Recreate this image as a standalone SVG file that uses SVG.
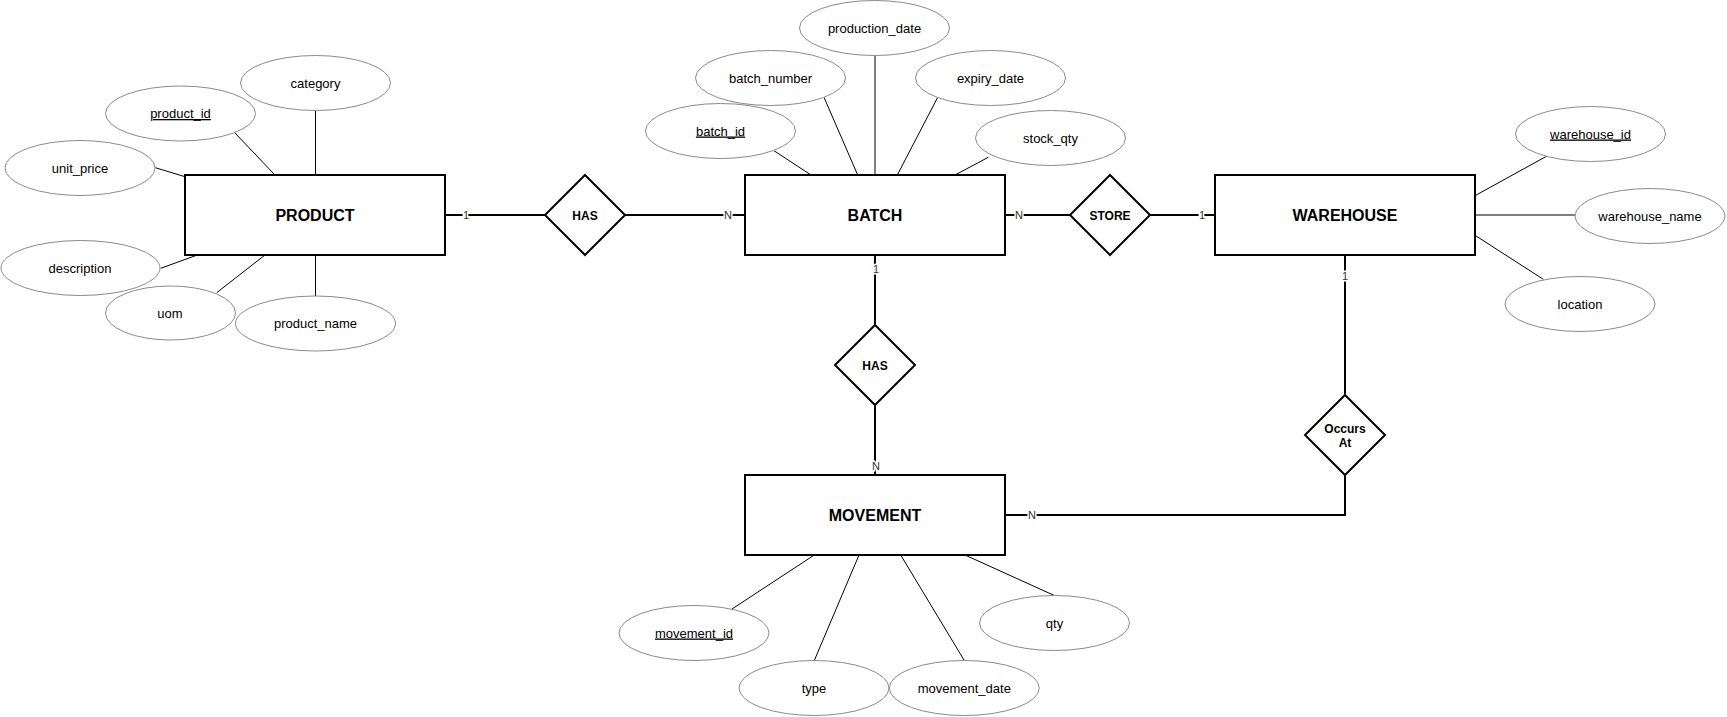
<svg xmlns="http://www.w3.org/2000/svg" width="1727" height="717" viewBox="0 0 1727 717">
<style>
text{font-family:"Liberation Sans",Arial,sans-serif;text-anchor:middle}
.ent{fill:#fff;stroke:#000;stroke-width:2}
.rel{fill:#fff;stroke:#000;stroke-width:2}
.attr{fill:#fff;stroke:#8a8a8a;stroke-width:1}
.et{font-size:16px;font-weight:bold;fill:#000}
.rt{font-size:12px;font-weight:bold;fill:#000}
.at{font-size:13px;fill:#000}
.u{text-decoration:underline}
.al{stroke:#000;stroke-width:1;fill:none}
.cl{stroke:#000;stroke-width:2;fill:none}
.card{font-size:11px;fill:#333;stroke:#fff;stroke-width:3;paint-order:stroke}
</style>
<rect width="1727" height="717" fill="#fff"/>

<g id="attr-lines">
<line class="al" x1="234.5" y1="132.5" x2="275" y2="175"/>
<line class="al" x1="315.5" y1="110.5" x2="315.5" y2="175"/>
<line class="al" x1="155.3" y1="167.7" x2="185" y2="176.7"/>
<line class="al" x1="160.7" y1="268.3" x2="197.3" y2="255"/>
<line class="al" x1="216.7" y1="292.7" x2="265" y2="255"/>
<line class="al" x1="315.5" y1="255" x2="315.5" y2="296"/>
<line class="al" x1="774" y1="150.7" x2="811" y2="175"/>
<line class="al" x1="824" y1="97.3" x2="857.7" y2="175"/>
<line class="al" x1="875" y1="55.5" x2="875" y2="175"/>
<line class="al" x1="937.7" y1="97.3" x2="897.3" y2="175"/>
<line class="al" x1="988.3" y1="157.3" x2="955" y2="175"/>
<line class="al" x1="1547" y1="156" x2="1475" y2="195.7"/>
<line class="al" x1="1475" y1="215" x2="1575" y2="215"/>
<line class="al" x1="1475" y1="235.3" x2="1543.3" y2="279.3"/>
<line class="al" x1="732" y1="609" x2="814.3" y2="555"/>
<line class="al" x1="814.3" y1="660.5" x2="859" y2="555"/>
<line class="al" x1="964.3" y1="660.5" x2="900.7" y2="555"/>
<line class="al" x1="1054.3" y1="595.5" x2="965" y2="555"/>
</g>

<g id="connectors">
<line class="cl" x1="445" y1="215" x2="545" y2="215"/>
<line class="cl" x1="625" y1="215" x2="745" y2="215"/>
<line class="cl" x1="1005" y1="215" x2="1070" y2="215"/>
<line class="cl" x1="1150" y1="215" x2="1215" y2="215"/>
<line class="cl" x1="875" y1="255" x2="875" y2="325"/>
<line class="cl" x1="875" y1="405" x2="875" y2="475"/>
<line class="cl" x1="1345" y1="255" x2="1345" y2="395"/>
<path class="cl" d="M1345 475 V515 H1005"/>
<text class="card" x="466" y="219">1</text>
<text class="card" x="728" y="219">N</text>
<text class="card" x="1019" y="219">N</text>
<text class="card" x="1202" y="219">1</text>
<text class="card" x="876" y="273">1</text>
<text class="card" x="876" y="470">N</text>
<text class="card" x="1345" y="280">1</text>
<text class="card" x="1032" y="519">N</text>
</g>

<g id="PRODUCT"><rect class="ent" x="185" y="175" width="260" height="80"/><text class="et" x="315" y="220.5">PRODUCT</text></g>
<g id="BATCH"><rect class="ent" x="745" y="175" width="260" height="80"/><text class="et" x="875" y="220.5">BATCH</text></g>
<g id="WAREHOUSE"><rect class="ent" x="1215" y="175" width="260" height="80"/><text class="et" x="1345" y="220.5">WAREHOUSE</text></g>
<g id="MOVEMENT"><rect class="ent" x="745" y="475" width="260" height="80"/><text class="et" x="875" y="520.5">MOVEMENT</text></g>

<g id="HAS1"><polygon class="rel" points="585,175 625,215 585,255 545,215"/><text class="rt" x="585" y="219.5">HAS</text></g>
<g id="STORE"><polygon class="rel" points="1110,175 1150,215 1110,255 1070,215"/><text class="rt" x="1110" y="219.5">STORE</text></g>
<g id="HAS2"><polygon class="rel" points="875,325 915,365 875,405 835,365"/><text class="rt" x="875" y="369.5">HAS</text></g>
<g id="OCCURS_AT"><polygon class="rel" points="1345,395 1385,435 1345,475 1305,435"/><text class="rt" x="1345" y="432.5">Occurs</text><text class="rt" x="1345" y="446.5">At</text></g>

<g id="category"><ellipse class="attr" cx="315.5" cy="83" rx="75" ry="27.5"/><text class="at" x="315.5" y="87.5">category</text></g>
<g id="product_id"><ellipse class="attr" cx="180.5" cy="113.5" rx="75" ry="27.5"/><text class="at u" x="180.5" y="118">product_id</text></g>
<g id="unit_price"><ellipse class="attr" cx="80" cy="168" rx="75" ry="27.5"/><text class="at" x="80" y="172.5">unit_price</text></g>
<g id="description"><ellipse class="attr" cx="80.5" cy="268" rx="79.5" ry="27.5"/><text class="at" x="80" y="272.5">description</text></g>
<g id="uom"><ellipse class="attr" cx="170.5" cy="313" rx="65" ry="27"/><text class="at" x="170" y="317.5">uom</text></g>
<g id="product_name"><ellipse class="attr" cx="315.5" cy="323.5" rx="80" ry="27.5"/><text class="at" x="315.5" y="328">product_name</text></g>

<g id="production_date"><ellipse class="attr" cx="874.5" cy="28" rx="75" ry="27.5"/><text class="at" x="874.5" y="32.5">production_date</text></g>
<g id="batch_number"><ellipse class="attr" cx="770.5" cy="78" rx="75" ry="27.5"/><text class="at" x="770.5" y="82.5">batch_number</text></g>
<g id="expiry_date"><ellipse class="attr" cx="990.5" cy="78" rx="75" ry="27.5"/><text class="at" x="990.5" y="82.5">expiry_date</text></g>
<g id="batch_id"><ellipse class="attr" cx="720.5" cy="131" rx="75" ry="27.5"/><text class="at u" x="720.5" y="135.5">batch_id</text></g>
<g id="stock_qty"><ellipse class="attr" cx="1050.5" cy="138" rx="75" ry="27.5"/><text class="at" x="1050.5" y="142.5">stock_qty</text></g>

<g id="warehouse_id"><ellipse class="attr" cx="1590.5" cy="134" rx="75" ry="27.5"/><text class="at u" x="1590.5" y="138.5">warehouse_id</text></g>
<g id="warehouse_name"><ellipse class="attr" cx="1650" cy="216" rx="75" ry="27.5"/><text class="at" x="1650" y="220.5">warehouse_name</text></g>
<g id="location"><ellipse class="attr" cx="1580" cy="304" rx="75" ry="27.5"/><text class="at" x="1580" y="308.5">location</text></g>

<g id="movement_id"><ellipse class="attr" cx="694" cy="633" rx="75" ry="27.5"/><text class="at u" x="694" y="637.5">movement_id</text></g>
<g id="type"><ellipse class="attr" cx="814" cy="688" rx="75" ry="27.5"/><text class="at" x="814" y="692.5">type</text></g>
<g id="movement_date"><ellipse class="attr" cx="964.3" cy="688" rx="75" ry="27.5"/><text class="at" x="964.3" y="692.5">movement_date</text></g>
<g id="qty"><ellipse class="attr" cx="1054.5" cy="623" rx="75" ry="27.5"/><text class="at" x="1054.5" y="627.5">qty</text></g>
</svg>
